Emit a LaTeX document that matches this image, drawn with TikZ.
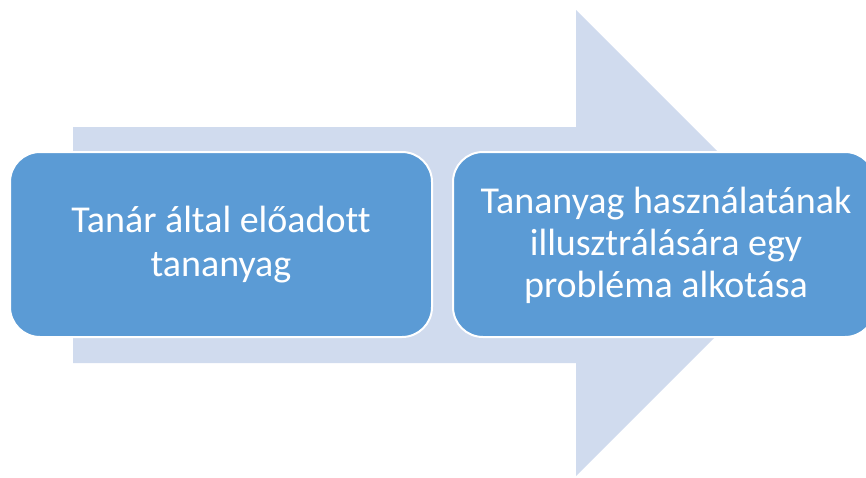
\documentclass[tikz,border=0pt]{standalone}
\usepackage{fontspec}
\setmainfont[Ligatures=NoCommon]{Carlito}
\definecolor{arrowblue}{HTML}{D0DBEE}
\definecolor{boxblue}{HTML}{5B9BD5}
\begin{document}
\begin{tikzpicture}[x=1pt,y=-1pt,
  stepbox/.style={draw=white,line width=2pt,fill=boxblue,rounded corners=30pt},
  steptext/.style={text=white,align=center,inner sep=0pt}]
\useasboundingbox (0,0) rectangle (866,477);
\fill[arrowblue] (73,127) -- (576,127) -- (576,10) -- (809,243) -- (576,476) -- (576,363) -- (73,363) -- cycle;
\path[stepbox] (10,152) rectangle (432,337);
\path[stepbox] (453,152) rectangle (875,337);
\node[steptext,font=\fontsize{38}{44}\selectfont] (a) at (221,245) {Tanár által előadott\\tananyag};
\node[steptext,font=\fontsize{38}{42}\selectfont] (b) at (666,245) {Tananyag használatának\\illusztrálására egy\\probléma alkotása};
\end{tikzpicture}
\end{document}
